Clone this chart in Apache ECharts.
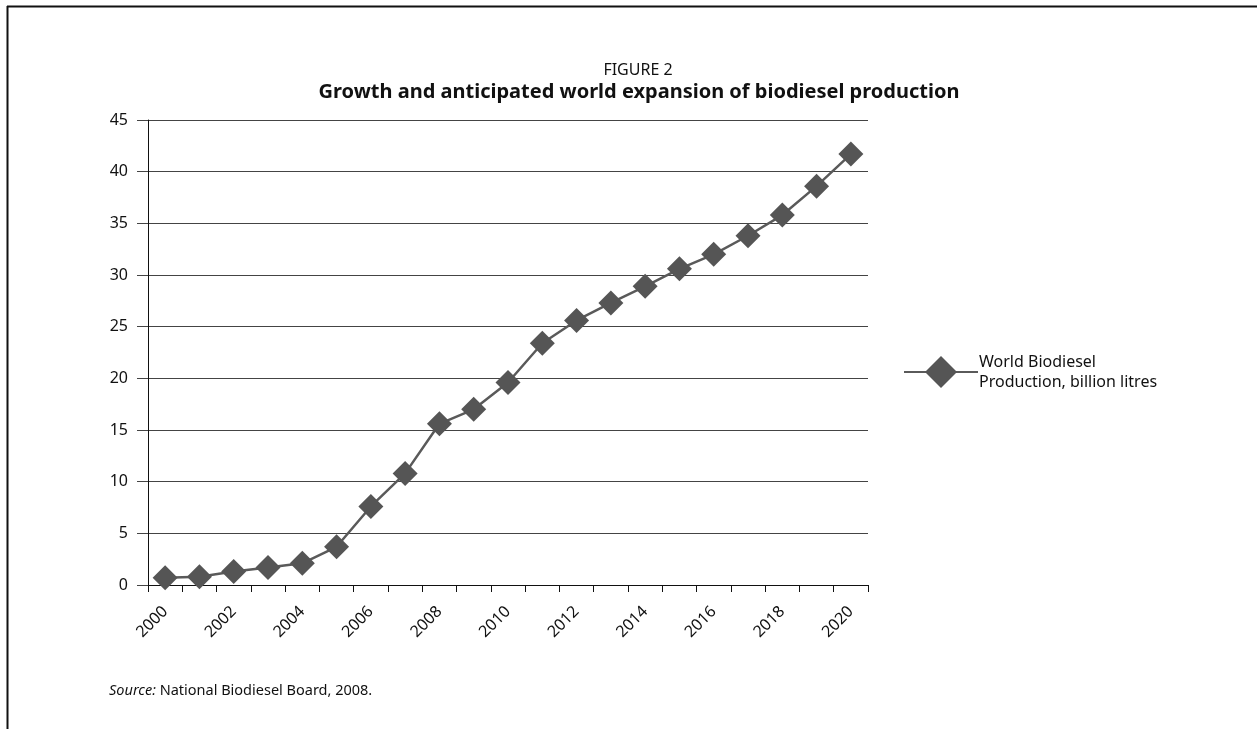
<!DOCTYPE html>
<html>
<head>
<meta charset="utf-8">
<script src="https://cdn.jsdelivr.net/npm/echarts@6/dist/echarts.min.js"></script>
<style>
  html, body { margin: 0; padding: 0; background: #fff; }
  #chart { width: 1257px; height: 729px; }
</style>
</head>
<body>
<div id="chart"></div>
<script>
// 年份 (横轴类目)
var years = ["2000", "2001", "2002", "2003", "2004", "2005", "2006", "2007", "2008", "2009", "2010",
             "2011", "2012", "2013", "2014", "2015", "2016", "2017", "2018", "2019", "2020"];
// 世界生物柴油产量, 十亿升
var production = [0.7, 0.8, 1.3, 1.7, 2.1, 3.7, 7.6, 10.8, 15.6, 17.0, 19.6,
                  23.4, 25.6, 27.3, 28.9, 30.6, 32.0, 33.8, 35.8, 38.6, 41.7];
var seriesName = "World Biodiesel Production, billion litres";

(function () {
    var myChart = echarts.init(document.getElementById("chart"));
    var font = "'Noto Sans', 'Open Sans', sans-serif";
    var option = {
        backgroundColor: "#fff",
        animation: false,
        title: [
            {
                text: "FIGURE 2",
                left: 633,
                top: 57,
                textAlign: "center",
                textStyle: { fontFamily: font, fontSize: 16, fontWeight: "normal", color: "#111" },
            },
            {
                text: "Growth and anticipated world expansion of biodiesel production",
                left: 634,
                top: 77,
                textAlign: "center",
                textStyle: { fontFamily: font, fontSize: 20, fontWeight: "bold", color: "#111" },
            },
        ],
        // 图例
        legend: {
            left: 898,
            top: 347,
            itemWidth: 74,
            itemHeight: 40,
            itemGap: 0,
            data: [seriesName],
            formatter: function () {
                return "World Biodiesel\nProduction, billion litres";
            },
            textStyle: { fontFamily: font, fontSize: 16, color: "#111", lineHeight: 20, padding: [0, 0, 0, -4] },
        },
        grid: {
            left: 148,
            right: 389,
            top: 120,
            bottom: 144,
            containLabel: false,
        },
        xAxis: {
            type: "category",
            data: years,
            boundaryGap: true,
            axisLine: { lineStyle: { color: "#111", width: 1 } },
            axisTick: { show: true, length: 7, lineStyle: { color: "#111" }, interval: 0 },
            axisLabel: {
                interval: 1,
                rotate: 45,
                margin: 24,
                fontFamily: font,
                fontSize: 16,
                color: "#111",
            },
        },
        yAxis: {
            type: "value",
            min: 0,
            max: 45,
            interval: 5,
            axisLine: { show: true, lineStyle: { color: "#111", width: 1 } },
            axisTick: { show: true, length: 11, lineStyle: { color: "#444" } },
            axisLabel: { margin: 20, fontFamily: font, fontSize: 16, color: "#111" },
            splitLine: { lineStyle: { color: "#444", width: 1 } },
        },
        series: [
            {
                name: seriesName,
                type: "line",
                data: production,
                symbol: "diamond",
                symbolSize: 25,
                showAllSymbol: true,
                lineStyle: { color: "#5a5a5a", width: 2.5 },
                itemStyle: { color: "#555555" },
            },
        ],
        graphic: [
            // 外框 (上边和左边)
            { type: "line", shape: { x1: 7, y1: 6.5, x2: 1257, y2: 6.5 }, style: { stroke: "#111", lineWidth: 2 } },
            { type: "line", shape: { x1: 7.5, y1: 6, x2: 7.5, y2: 729 }, style: { stroke: "#111", lineWidth: 2 } },
            {
                type: "text",
                left: 109,
                top: 683,
                style: {
                    text: "{i|Source:} National Biodiesel Board, 2008.",
                    font: "14.5px " + font,
                    fill: "#111",
                    rich: { i: { fontStyle: "italic", fontSize: 14.5, fontFamily: font, fill: "#111" } },
                },
            },
        ],
    };
    myChart.setOption(option);
    window.addEventListener("resize", function () {
        myChart.resize();
    });
})();
</script>
</body>
</html>
